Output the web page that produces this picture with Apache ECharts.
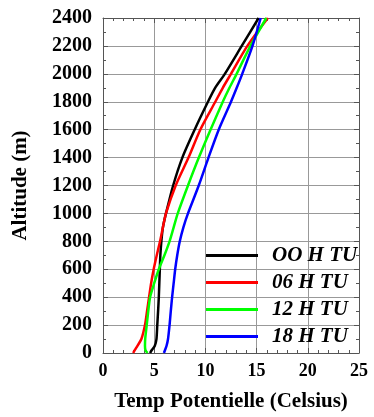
<!DOCTYPE html>
<html>
<head>
<meta charset="utf-8">
<script src="https://cdn.jsdelivr.net/npm/echarts@6/dist/echarts.min.js"></script>
<style>
html,body{margin:0;padding:0;background:#fff;}
#chart{width:374px;height:417px;}
</style>
</head>
<body>
<div id="chart"></div>
<script>
// Data
const altitudes = [0, 20, 50, 100, 200, 300, 400, 500, 600, 700, 800, 900, 1000, 1200, 1400, 1600, 1800, 1900, 2000, 2200, 2400];
const temp00 = [4.6, 4.75, 5.05, 5.22, 5.3, 5.38, 5.45, 5.5, 5.55, 5.6, 5.7, 5.85, 6.15, 6.85, 7.75, 8.95, 10.25, 10.95, 11.9, 13.55, 15.2];
const temp06 = [2.95, 3.1, 3.35, 3.75, 4.1, 4.3, 4.5, 4.7, 4.95, 5.25, 5.57, 5.85, 6.15, 7.1, 8.35, 9.5, 10.97, 11.7, 12.5, 14.1, 16.1];
const temp12 = [4.35, 4.15, 4.1, 4.12, 4.27, 4.42, 4.6, 5.0, 5.45, 6.0, 6.5, 6.9, 7.3, 8.3, 9.36, 10.5, 11.7, 12.35, 13.05, 14.4, 15.95];
const temp18 = [5.95, 6.05, 6.2, 6.35, 6.5, 6.62, 6.75, 6.9, 7.05, 7.25, 7.5, 7.85, 8.3, 9.35, 10.3, 11.3, 12.5, 13.06, 13.6, 14.6, 15.4];
const seriesNames = ['OO H TU', '06 H TU', '12 H TU', '18 H TU'];
const seriesColors = ['#000000', '#ff0000', '#00ff00', '#0000ff'];
const xTitle = 'Temp Potentielle (Celsius)';
const yTitle = 'Altitude (m)';

const FONT = '"Liberation Serif", "DejaVu Serif", serif';
const temps = [temp00, temp06, temp12, temp18];

function pairs(t) { return t.map((v, i) => [v, altitudes[i]]); }

const frameColor = '#555';
const gridColor = '#999';

const baseX = {
  type: 'value', min: 0, max: 25, interval: 5,
  axisLine: { show: true, onZero: false, lineStyle: { color: frameColor, width: 1 } },
  axisTick: { show: true, inside: true, length: 5, lineStyle: { color: frameColor } },
  minorTick: { show: true, splitNumber: 5, length: 3, lineStyle: { color: frameColor } },
  splitLine: { show: false }
};
const baseY = {
  type: 'value', min: 0, max: 2400, interval: 200,
  axisLine: { show: true, onZero: false, lineStyle: { color: frameColor, width: 1 } },
  axisTick: { show: true, inside: true, length: 5, lineStyle: { color: frameColor } },
  minorTick: { show: true, splitNumber: 2, length: 3, lineStyle: { color: frameColor } },
  splitLine: { show: false }
};

const chart = echarts.init(document.getElementById('chart'), null, { renderer: 'canvas' });
chart.setOption({
  animation: false,
  backgroundColor: '#ffffff',
  grid: { left: 103, right: 15, top: 18, bottom: 61, containLabel: false },
  xAxis: [
    Object.assign({}, baseX, {
      position: 'bottom',
      splitLine: { show: true, lineStyle: { color: gridColor, width: 1 } },
      axisLabel: { show: true, margin: 9, color: '#000', fontFamily: FONT, fontWeight: 'bold', fontSize: 18 },
      name: xTitle, nameLocation: 'middle', nameGap: 38,
      nameTextStyle: { color: '#000', fontFamily: FONT, fontWeight: 'bold', fontSize: 21 }
    }),
    Object.assign({}, baseX, { position: 'top', axisLabel: { show: false } })
  ],
  yAxis: [
    Object.assign({}, baseY, {
      position: 'left',
      splitLine: { show: true, lineStyle: { color: gridColor, width: 1 } },
      axisLabel: { show: true, margin: 11, color: '#000', fontFamily: FONT, fontWeight: 'bold', fontSize: 20,
        formatter: v => String(v) },
      name: yTitle, nameLocation: 'middle', nameGap: 72, nameRotate: 90,
      nameTextStyle: { color: '#000', fontFamily: FONT, fontWeight: 'bold', fontSize: 21 }
    }),
    Object.assign({}, baseY, { position: 'right', axisLabel: { show: false } })
  ],
  legend: {
    orient: 'vertical', left: 201, top: 240,
    icon: 'rect', itemWidth: 52, itemHeight: 3, itemGap: 6,
    data: seriesNames,
    textStyle: { color: '#000', fontFamily: FONT, fontWeight: 'bold', fontStyle: 'italic', fontSize: 21, lineHeight: 21, padding: [0, 0, 0, 9] }
  },
  series: temps.map((t, i) => ({
    name: seriesNames[i],
    type: 'line',
    xAxisIndex: 0, yAxisIndex: 0,
    data: pairs(t),
    showSymbol: false, symbol: 'none',
    smooth: 0.25,
    lineStyle: { color: seriesColors[i], width: 2.5 },
    itemStyle: { color: seriesColors[i] },
    z: 3
  }))
});
</script>
</body>
</html>
